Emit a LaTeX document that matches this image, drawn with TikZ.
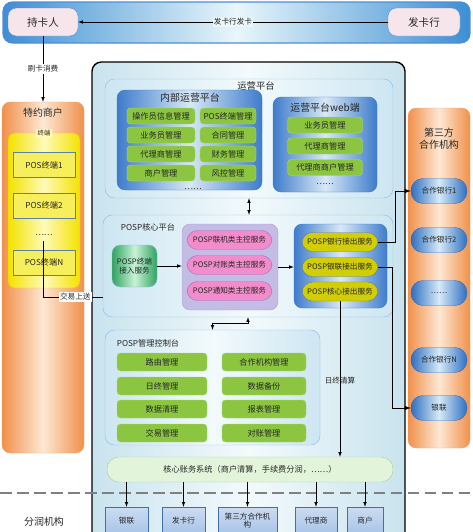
\documentclass[tikz,border=0pt]{standalone}
\usepackage{fontspec}
\setmainfont{Noto Sans CJK SC}
\usepackage{tikz}
\usetikzlibrary{shapes, positioning}

\definecolor{bandblue}{HTML}{3D8FD3}
\definecolor{bandlight}{HTML}{E9F6FA}
\definecolor{edgeblue}{HTML}{4F8DD8}
\definecolor{cardpink}{HTML}{F6E6EC}
\definecolor{mainedge}{HTML}{C9E3EE}
\definecolor{mainmid}{HTML}{F3FAFC}
\definecolor{platfill}{HTML}{CDE6F2}
\definecolor{platedge}{HTML}{8FC0E6}
\definecolor{grpblue}{HTML}{3E7CCB}
\definecolor{grplight}{HTML}{D8E8F6}
\definecolor{itemgreen}{HTML}{8CC641}
\definecolor{itemedge}{HTML}{A9D57A}
\definecolor{lavender}{HTML}{C3BDE6}
\definecolor{pinkfill}{HTML}{F28CCB}
\definecolor{pinkedge}{HTML}{9A76C6}
\definecolor{olive}{HTML}{D2CE06}
\definecolor{accgreen}{HTML}{2FA35E}
\definecolor{acclight}{HTML}{C8F2D8}
\definecolor{orgdark}{HTML}{F0904A}
\definecolor{orglight}{HTML}{FDE8D4}
\definecolor{ylwdark}{HTML}{F3E200}
\definecolor{ylwlight}{HTML}{FFFAB8}
\definecolor{posfill}{HTML}{F7EE5C}
\definecolor{posedge}{HTML}{5D7FA6}
\definecolor{pillblue}{HTML}{2F6FC0}
\definecolor{pilllight}{HTML}{D6EAF8}
\definecolor{acctfill}{HTML}{E2F5DA}
\definecolor{acctedge}{HTML}{A7D595}
\definecolor{instfill}{HTML}{A9C4E8}
\definecolor{instedge}{HTML}{3F6FB0}
\definecolor{txtdark}{HTML}{262626}

\begin{document}
\begin{tikzpicture}[x=0.3mm, y=-0.3mm, >=latex,
	font=\fontsize{7}{8}\selectfont, text=txtdark,
	sz/.style 2 args={minimum width=#1*0.3mm, minimum height=#2*0.3mm, inner sep=0pt},
	title/.style={font=\fontsize{8.5}{10}\selectfont},
	group/.style={rounded corners=7pt, draw=grpblue, left color=grpblue, right color=grpblue, middle color=grplight},
	plat/.style={rounded corners=8pt, draw=platedge, left color=platfill, right color=platfill, middle color=mainmid},
	orange/.style={rounded corners=7pt, draw=orgdark!80, left color=orgdark, right color=orgdark, middle color=orglight},
	item/.style={rounded corners=3pt, draw=itemedge, fill=itemgreen},
	pinkitem/.style={sz={85}{19}, rounded corners=9pt, draw=pinkedge, fill=pinkfill, font=\fontsize{6.5}{7}\selectfont},
	outitem/.style={sz={76}{19}, rounded corners=9pt, draw=posedge, fill=olive, font=\fontsize{6.5}{7}\selectfont},
	posbox/.style={sz={62}{25}, draw=posedge, line width=0.8pt, fill=posfill},
	pill/.style={sz={56}{25}, rounded corners=3.6mm, draw=pillblue, left color=pillblue, right color=pillblue, middle color=pilllight, font=\fontsize{6.5}{7}\selectfont},
	inst/.style={sz={#1}{27}, draw=instedge, top color=instfill!60, bottom color=instfill, align=center, font=\fontsize{6.5}{7.5}\selectfont},
	lbl/.style={inner sep=1pt, font=\fontsize{6.5}{7}\selectfont}]
			\useasboundingbox (0,0) rectangle (473,532);
			\clip (0,0) rectangle (473,532);
			
			\node[sz={467}{41}, rounded corners=8pt, draw=edgeblue, line width=1pt, left color=bandblue, right color=bandblue, middle color=bandlight] (band) at (236.5,22.5) {};
			\node[sz={70}{28}, rounded corners=7pt, draw=edgeblue, fill=cardpink, font=\fontsize{9}{10}\selectfont] (holder) at (43,22) {持卡人};
			\node[sz={72}{28}, rounded corners=7pt, draw=edgeblue, fill=cardpink, font=\fontsize{9}{10}\selectfont] (issuer) at (424,22) {发卡行};
			
			\node[sz={82}{351}, orange] (merchant) at (43,277.5) {};
			\node[title] (mtitle) at (43,113) {特约商户};
			\node[sz={72}{155}, rounded corners=6pt, draw=ylwdark!70!orange, left color=ylwdark, right color=ylwdark, middle color=ylwlight] (term) at (44,210.5) {};
			\node[lbl, fill=ylwlight, font=\fontsize{5.5}{6}\selectfont] (ttitle) at (term.north) {终端};
			\node[posbox] (pos1) at (44,165) {POS终端1};
			\node[posbox] (pos2) at (44,205.5) {POS终端2};
			\node (tdots) at (44,235) {……};
			\node[posbox] (posn) at (44,262.5) {POS终端N};
			
			\node[sz={313}{483}, rounded corners=8pt, draw=black, line width=1.2pt, left color=mainedge, right color=mainedge, middle color=mainmid] (main) at (248.5,303.5) {};
			
			\node[sz={288}{119}, plat] (ops) at (249,138.5) {};
			\node[font=\fontsize{8}{9}\selectfont] (opstitle) at (256,86) {运营平台};
			
			\node[sz={145}{100}, group] (inner) at (189.5,140) {};
			\node[title] (innertitle) at (190,98) {内部运营平台};
			\node[sz={68}{16}, item] (op1) at (161,116) {操作员信息管理};
			\node[sz={68}{16}, item] (op2) at (161,135) {业务员管理};
			\node[sz={68}{16}, item] (op3) at (161,154) {代理商管理};
			\node[sz={68}{16}, item] (op4) at (161,173) {商户管理};
			\node[sz={56}{16}, item] (op5) at (228,116) {POS终端管理};
			\node[sz={56}{16}, item] (op6) at (228,135) {合同管理};
			\node[sz={56}{16}, item] (op7) at (228,154) {财务管理};
			\node[sz={56}{16}, item] (op8) at (228,173) {风控管理};
			\node (innerdots) at (193,189) {……};
			
			\node[sz={104}{95}, group] (web) at (325,144.5) {};
			\node[title] (webtitle) at (325,108) {运营平台web端};
			\node[sz={75}{16}, item] (web1) at (325,125) {业务员管理};
			\node[sz={75}{16}, item] (web2) at (325,146) {代理商管理};
			\node[sz={75}{16}, item] (web3) at (325,167.5) {代理商商户管理};
			\node (webdots) at (325,184) {……};
			
			\node[sz={290}{102}, plat] (core) at (248,266) {};
			\node (coretitle) at (148,227) {POSP核心平台};
			\node[sz={45}{42}, rounded corners=7pt, draw=platedge, left color=accgreen, right color=accgreen, middle color=acclight, align=center, font=\fontsize{6.5}{8}\selectfont] (access) at (134.5,266) {POSP终端\\接入服务};
			
			\node[sz={96}{86}, rounded corners=7pt, draw=pinkedge!70, fill=lavender] (ctrl) at (230,267) {};
			\node[pinkitem] (ctrl1) at (229.5,240) {POSP联机类主控服务};
			\node[pinkitem] (ctrl2) at (229.5,265) {POSP对账类主控服务};
			\node[pinkitem] (ctrl3) at (229.5,291) {POSP通知类主控服务};
			
			\node[sz={93}{84}, group] (outg) at (340.5,266) {};
			\node[outitem] (bankout) at (340,242) {POSP银行接出服务};
			\node[outitem] (cupout) at (340,267) {POSP银联接出服务};
			\node[outitem] (coreout) at (340,291.5) {POSP核心接出服务};
			
			\node[sz={215}{115}, plat] (mgmt) at (212.5,387.5) {};
			\node (mgmttitle) at (148,343) {POSP管理控制台};
			\node[sz={90}{18}, item] (mg1) at (162,362) {路由管理};
			\node[sz={90}{18}, item] (mg2) at (162,386) {日终管理};
			\node[sz={90}{18}, item] (mg3) at (162,409) {数据清理};
			\node[sz={90}{18}, item] (mg4) at (162,433) {交易管理};
			\node[sz={84}{18}, item] (mg5) at (264,362) {合作机构管理};
			\node[sz={84}{18}, item] (mg6) at (264,386) {数据备份};
			\node[sz={84}{18}, item] (mg7) at (264,409) {报表管理};
			\node[sz={84}{18}, item] (mg8) at (264,433) {对账管理};
			
			\node[sz={286}{25}, rounded corners=3.6mm, draw=acctedge, fill=acctfill] (acct) at (250,469.5) {核心账务系统（商户清算，手续费分润，……）};
			
			\node[sz={62}{340}, orange] (partner) at (439,278) {};
			\node[title, align=center] (ptitle) at (439,139) {第三方\\合作机构};
			\node[pill] (bank1) at (439,191) {合作银行1};
			\node[pill] (bank2) at (439,240) {合作银行2};
			\node[pill] (bankdots) at (439,293) {……};
			\node[pill] (bankn) at (439,360) {合作银行N};
			\node[pill] (cup) at (439,408) {银联};
			
			\node[inst=43] (b1) at (126.5,520.5) {银联};
			\node[inst=43] (b2) at (183.5,520.5) {发卡行};
			\node[inst=59] (b3) at (247.5,520.5) {第三方合作机\\构};
			\node[inst=42] (b4) at (316,520.5) {代理商};
			\node[inst=36] (b5) at (365,520.5) {商户};
			\node[title] (share) at (44,522) {分润机构};
			
			\coordinate (cutL) at (0,493);
			\coordinate (cutR) at (473,493);
			\coordinate (upA) at (43,241);
			\coordinate (bankbus) at (395,191);
			\coordinate (cupbus) at (392,408);
			
			\draw[->] (issuer) -- node[lbl, fill=bandlight]{发卡行发卡} (holder);
			\draw[->] (holder) -- node[lbl, fill=white]{刷卡消费} (merchant);
			\draw (upA) |- node[lbl, pos=0.77, fill=white]{交易上送} (core.west |- 0,297);
			\draw[<->] (ops.south) -- (ops.south |- core.north);
			\draw[->] (access.east) -- (ctrl.west |- access.east);
			\draw[->] (ctrl.east) -- (outg.west |- ctrl.east);
			\draw[<->] (core.south) -- ++(0,6) -| (mgmt.north);
			\draw[->, line width=0.8pt] (bankout.east) -| (bankbus) -- (bank1.west);
			\draw[->, line width=0.8pt] (cupout.east) -| (cupbus) -- (cup.west);
			\draw[->] (coreout.south) -- node[lbl, pos=0.51]{日终清算} (coreout.south |- acct.north);
			\draw[gray, line width=1.4pt, dash pattern=on 10pt off 4.5pt] (cutL) -- (cutR);
			\draw[->] (acct.south -| b1.north) -- (b1.north);
			\draw[->] (acct.south -| b2.north) -- (b2.north);
			\draw[->] (acct.south -| b3.north) -- (b3.north);
			\draw[->] (acct.south -| b4.north) -- (b4.north);
			\draw[->] (acct.south -| b5.north) -- (b5.north);
		\end{tikzpicture}
\end{document}
